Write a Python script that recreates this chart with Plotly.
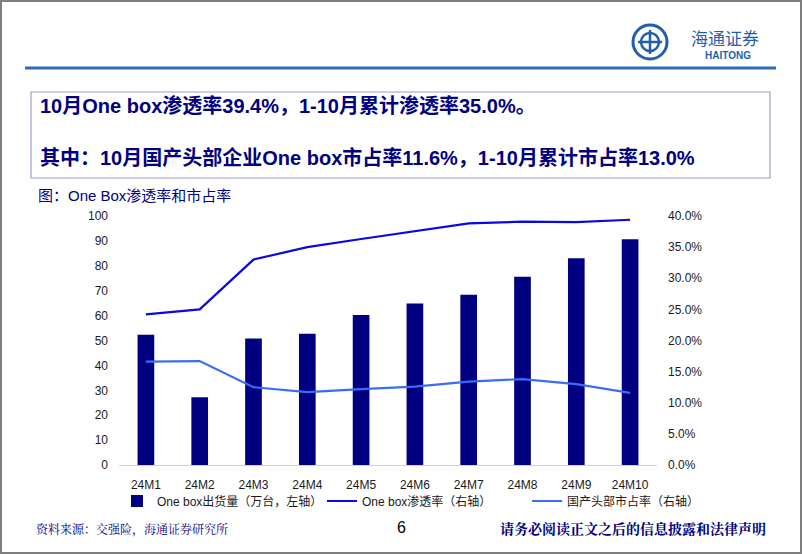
import plotly.graph_objects as go

categories = ["24M1", "24M2", "24M3", "24M4", "24M5", "24M6", "24M7", "24M8", "24M9", "24M10"]
shipments = [52.3, 27.2, 50.8, 52.7, 60.2, 64.9, 68.4, 75.6, 83.0, 90.7]
penetration = [0.242, 0.250, 0.330, 0.350, 0.363, 0.376, 0.388, 0.391, 0.390, 0.394]
share = [0.166, 0.167, 0.125, 0.117, 0.122, 0.126, 0.134, 0.138, 0.130, 0.116]

W, H = 802, 554
L, R, T, B = 119, 657, 216, 465  # plot area in pixels


def px(x):
    return (x - L) / (R - L)


def py(y):
    return (B - y) / (B - T)


FONT = "Liberation Sans, Arial, Noto Sans CJK SC, sans-serif"
NAVY = "#000080"

fig = go.Figure()
fig.add_trace(go.Bar(x=categories, y=shipments, name="One box出货量（万台，左轴）",
                     marker=dict(color=NAVY, line=dict(width=0)), yaxis="y"))
fig.add_trace(go.Scatter(x=categories, y=penetration, name="One box渗透率（右轴）",
                         mode="lines", line=dict(color="#0a0ae0", width=2.2), yaxis="y2"))
fig.add_trace(go.Scatter(x=categories, y=share, name="国产头部市占率（右轴）",
                         mode="lines", line=dict(color="#3a6cf4", width=2.2), yaxis="y2"))

shapes = [
    dict(type="rect", xref="paper", yref="paper", x0=px(1), x1=px(801), y0=py(1), y1=py(553),
         line=dict(color="#7f7f7f", width=2), layer="below"),
    dict(type="line", xref="paper", yref="paper", x0=px(25), x1=px(776), y0=py(68), y1=py(68),
         line=dict(color="#2e6db5", width=3)),
    dict(type="rect", xref="paper", yref="paper", x0=px(31), x1=px(770), y0=py(92), y1=py(178),
         line=dict(color="#9c9ccf", width=1.2)),
    dict(type="circle", xref="paper", yref="paper", x0=px(633), x1=px(667), y0=py(25), y1=py(59),
         line=dict(color="#1f5fae", width=3)),
    dict(type="circle", xref="paper", yref="paper", x0=px(641), x1=px(659), y0=py(33), y1=py(51),
         line=dict(color="#1f5fae", width=2.5)),
    dict(type="line", xref="paper", yref="paper", x0=px(638), x1=px(662), y0=py(42), y1=py(42),
         line=dict(color="#1f5fae", width=2.5)),
    dict(type="line", xref="paper", yref="paper", x0=px(650), x1=px(650), y0=py(30), y1=py(54),
         line=dict(color="#1f5fae", width=2.5)),
]

annotations = [
    dict(text="海通证券", x=px(689), y=py(37), xref="paper", yref="paper", xanchor="left",
         yanchor="middle", showarrow=False,
         font=dict(family="Noto Sans CJK SC", size=17, color="#1f5fae")),
    dict(text="<b>HAITONG</b>", x=px(728), y=py(55), xref="paper", yref="paper", xanchor="center",
         yanchor="middle", showarrow=False,
         font=dict(family="Liberation Sans", size=10, color="#1f5fae")),
    dict(text="<b>10月One box渗透率39.4%，1-10月累计渗透率35.0%。</b>", x=px(38), y=py(105),
         xref="paper", yref="paper", xanchor="left", yanchor="middle", showarrow=False,
         font=dict(family=FONT, size=20, color=NAVY)),
    dict(text="<b>其中：10月国产头部企业One box市占率11.6%，1-10月累计市占率13.0%</b>", x=px(38), y=py(157),
         xref="paper", yref="paper", xanchor="left", yanchor="middle", showarrow=False,
         font=dict(family=FONT, size=20, color=NAVY)),
    dict(text="图：One Box渗透率和市占率", x=px(36), y=py(195),
         xref="paper", yref="paper", xanchor="left", yanchor="middle", showarrow=False,
         font=dict(family=FONT, size=15, color=NAVY)),
    dict(text="资料来源：交强险，海通证券研究所", x=px(34), y=py(528),
         xref="paper", yref="paper", xanchor="left", yanchor="middle", showarrow=False,
         font=dict(family="Noto Serif CJK SC, Noto Sans CJK SC", size=12, color=NAVY)),
    dict(text="6", x=px(401), y=py(527),
         xref="paper", yref="paper", xanchor="center", yanchor="middle", showarrow=False,
         font=dict(family="Liberation Sans", size=16, color="#000000")),
    dict(text="<b>请务必阅读正文之后的信息披露和法律声明</b>", x=px(768), y=py(528),
         xref="paper", yref="paper", xanchor="right", yanchor="middle", showarrow=False,
         font=dict(family="Noto Serif CJK SC, Noto Sans CJK SC", size=14, color=NAVY)),
]

fig.update_layout(
    width=W, height=H,
    margin=dict(l=L, r=W - R, t=T, b=H - B, pad=0),
    paper_bgcolor="white", plot_bgcolor="white",
    font=dict(family=FONT, size=12, color="#1a1a1a"),
    bargap=0.69,
    showlegend=True,
    legend=dict(orientation="h", x=px(117), y=py(501), xanchor="left", yanchor="middle",
                font=dict(family=FONT, size=12, color="#1a1a1a"),
                itemwidth=30, tracegroupgap=0, entrywidth=160, entrywidthmode="pixels",
                bgcolor="rgba(0,0,0,0)", traceorder="normal"),
    xaxis=dict(showgrid=False, showline=True, linecolor="#d0d0d0", linewidth=1,
               ticks="outside", ticklen=9, tickcolor="rgba(0,0,0,0)",
               tickfont=dict(size=12, color="#1a1a1a")),
    yaxis=dict(range=[0, 100], dtick=10, showgrid=False, zeroline=False, showline=False,
               ticks="", tickfont=dict(size=12, color="#1a1a1a"), ticklabelstandoff=10),
    yaxis2=dict(range=[0, 0.4], dtick=0.05, tickformat=".1%", overlaying="y", side="right",
                showgrid=False, zeroline=False, showline=False, ticks="",
                tickfont=dict(size=12, color="#1a1a1a"), ticklabelstandoff=10),
    shapes=shapes,
    annotations=annotations,
)

fig.write_html("out.html")
